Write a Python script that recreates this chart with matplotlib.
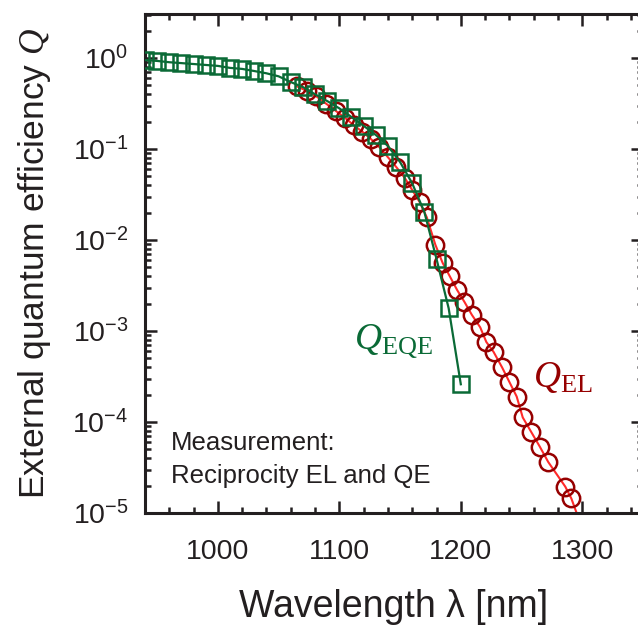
import numpy as np
import matplotlib
matplotlib.use("Agg")
import matplotlib.pyplot as plt
from matplotlib.ticker import MultipleLocator, LogLocator, FuncFormatter, NullFormatter

# --- data ---
eqe_wl = [940, 950, 960, 970, 980, 990, 1000, 1010, 1020, 1030, 1040, 1050, 1060,
          1070, 1080, 1090, 1100, 1110, 1120, 1130, 1140, 1150, 1160, 1170, 1180,
          1190, 1200]
eqe_q = [0.95, 0.93, 0.90, 0.88, 0.86, 0.84, 0.82, 0.78, 0.76, 0.72, 0.68, 0.63,
         0.545, 0.48, 0.40, 0.337, 0.28, 0.225, 0.18, 0.143, 0.108, 0.072, 0.042,
         0.0203, 0.0062, 0.00178, 0.00026]

el_wl = [1065, 1073, 1081, 1089, 1097, 1105, 1112, 1119, 1126, 1133, 1140, 1147,
         1154, 1160, 1166, 1172, 1179, 1185, 1191, 1197, 1203, 1209, 1216, 1221,
         1227, 1234, 1240, 1246, 1251, 1258, 1265, 1272, 1286, 1291]
el_log = [-0.31, -0.36, -0.42, -0.50, -0.58, -0.66, -0.74, -0.81, -0.89, -0.98,
          -1.09, -1.20, -1.32, -1.45, -1.58, -1.75, -2.05, -2.25, -2.40, -2.55,
          -2.68, -2.82, -2.96, -3.12, -3.23, -3.40, -3.56, -3.72, -3.95, -4.11,
          -4.27, -4.44, -4.71, -4.84]
el_q = [10 ** v for v in el_log]

# red model line continues past the last circle down to the axis
el_line_wl = el_wl + [1298]
el_line_q = el_q + [8e-6]

green = "#0a6a36"
dark_red = "#960000"
bright_red = "#ff2a2a"
ink = "#231f20"

plt.rcParams["font.family"] = ["Liberation Sans", "DejaVu Sans"]
plt.rcParams["mathtext.fontset"] = "custom"
plt.rcParams["mathtext.it"] = "Liberation Serif:italic"
plt.rcParams["mathtext.rm"] = "Liberation Serif"
plt.rcParams["mathtext.sf"] = "Liberation Serif"

fig = plt.figure(figsize=(6.38, 6.33), dpi=100)
ax = fig.add_axes([145 / 638, 120 / 633, 498 / 638, 499 / 633])

ax.plot(el_line_wl, el_line_q, color=bright_red, lw=1.5, zorder=2)
ax.plot(el_wl, el_q, ls="none", marker="o", ms=12.5, mfc="none",
        mec=dark_red, mew=1.8, zorder=3)
ax.plot(eqe_wl, eqe_q, color=green, lw=1.6, marker="s", ms=11.5, mfc="none",
        mec=green, mew=1.8, zorder=4)

ax.set_yscale("log")
ax.set_xlim(940, 1350)
ax.set_ylim(1e-5, 3.05)

ax.xaxis.set_major_locator(MultipleLocator(100))
ax.xaxis.set_minor_locator(MultipleLocator(20))
ax.yaxis.set_major_locator(LogLocator(base=10))
ax.yaxis.set_minor_locator(LogLocator(base=10, subs=np.arange(2, 10)))
ax.yaxis.set_major_formatter(FuncFormatter(lambda v, p: r"$\mathregular{10^{%d}}$" % round(np.log10(v))))
ax.yaxis.set_minor_formatter(NullFormatter())

for s in ax.spines.values():
    s.set_linewidth(2.2)
    s.set_color(ink)

ax.tick_params(which="both", direction="in", top=True, right=True, color=ink,
               width=1.8, labelcolor=ink, labelsize=20.5)
ax.tick_params(which="major", length=8.5)
ax.tick_params(which="minor", length=4.5)
ax.tick_params(axis="x", which="major", pad=19)
ax.tick_params(axis="y", which="major", pad=12)

ax.set_xlabel("Wavelength λ [nm]", fontsize=27, color=ink, labelpad=17)
ax.set_ylabel(r"External quantum efficiency $Q$", fontsize=25.5, color=ink, labelpad=14)

ax.text(0.42, 0.327, r"$Q_{\mathsf{EQE}}$", transform=ax.transAxes, color=green,
        fontsize=27, ha="left", va="baseline")
ax.text(0.78, 0.252, r"$Q_{\mathsf{EL}}$", transform=ax.transAxes, color=dark_red,
        fontsize=27, ha="left", va="baseline")
ax.text(0.052, 0.126, "Measurement:", transform=ax.transAxes, color=ink,
        fontsize=18.5, ha="left", va="baseline")
ax.text(0.052, 0.06, "Reciprocity EL and QE", transform=ax.transAxes, color=ink,
        fontsize=18.5, ha="left", va="baseline")

fig.savefig("out.png", dpi=100)
